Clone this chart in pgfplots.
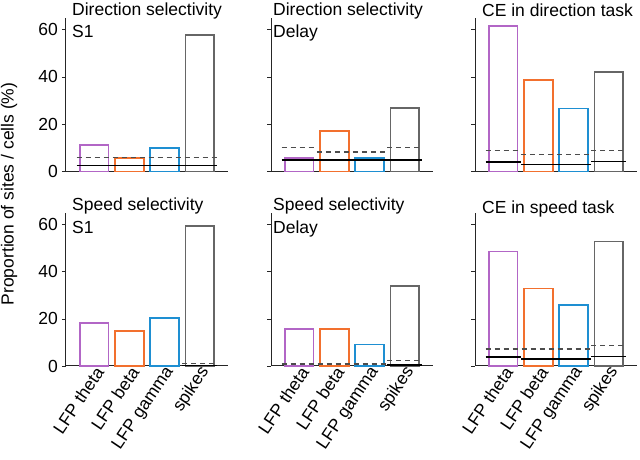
\documentclass[border=0pt]{standalone}
\usepackage{fontspec}
\setmainfont{Liberation Sans}
\usepackage{pgfplots}
\pgfplotsset{compat=1.18}
\definecolor{cpur}{HTML}{B266C6}
\definecolor{cora}{HTML}{F2702E}
\definecolor{cblu}{HTML}{1E8FD2}
\definecolor{cgry}{HTML}{666666}
\newcommand\f{\fontsize{17.5}{22.5}\selectfont}
\pgfplotsset{
 panel/.style={
  scale only axis, width=162pt, height=154pt,
  xmin=-0.8, xmax=3.8, ymin=0, ymax=65,
  axis x line*=bottom, axis y line*=left,
  axis line style={-, line width=1pt, black!85},
  ytick={0,20,40,60}, yticklabels={0,20,40,60},
  tick align=outside, major tick length=4pt,
  ytick style={line width=0.8pt, black!85},
  xtick={0,1,2,3}, xtick style={draw=none},
  xticklabels={},
  /pgf/number format/assume math mode=true,
  tick label style={font=\f},
  yticklabel style={inner sep=1pt, xshift=-3pt},
  title style={font=\f, align=left, at={(0,1)}, anchor=north west, yshift=9.3pt, inner sep=0pt},
  unbounded coords=jump,
  clip=false,
 },
 nolab/.style={yticklabels={}},
 xlab/.style={xticklabels={LFP theta, LFP beta, LFP gamma, spikes}, xticklabel style={rotate=56, anchor=east, inner sep=1pt, xshift=5pt, yshift=-4pt}},
 br/.style={ybar, bar width=0.82, bar shift=0pt, fill=none, line width=1.6pt, draw=#1},
 sl/.style={line width=1.5pt, black, no marks},
 dl/.style={line width=1.5pt, black!70, dash pattern=on 5pt off 4pt, no marks},
}
\begin{document}
\begin{tikzpicture}
% ---- top row ----
\begin{axis}[panel, at={(66pt,288.3pt)}, anchor=south west, title={Direction selectivity\\S1}, title style={xshift=6pt}]
\addplot[br=cpur] coordinates {(0,11.2)};
\addplot[br=cora] coordinates {(1,5.9)};
\addplot[br=cblu] coordinates {(2,10.1)};
\addplot[br=cgry] coordinates {(3,57.6)};
\addplot[dl] coordinates {(-0.5,5.9) (3.5,5.9)};
\addplot[sl] coordinates {(-0.5,2.7) (3.5,2.7)};
\end{axis}
\begin{axis}[panel, nolab, at={(271pt,288.3pt)}, anchor=south west, title={Direction selectivity\\Delay}, title style={xshift=2pt}]
\addplot[br=cpur] coordinates {(0,5.8)};
\addplot[br=cora] coordinates {(1,17.1)};
\addplot[br=cblu] coordinates {(2,5.9)};
\addplot[br=cgry] coordinates {(3,27.0)};
\addplot[dl] coordinates {(-0.5,10.3) (0.5,10.3) (0.5,nan) (0.5,8.4) (2.5,8.4) (2.5,nan) (2.5,10.3) (3.5,10.3)};
\addplot[sl] coordinates {(-0.5,4.9) (3.5,4.9)};
\end{axis}
\begin{axis}[panel, nolab, at={(475pt,288.3pt)}, anchor=south west, title={CE in direction task}, title style={xshift=7pt, yshift=-1.5pt}]
\addplot[br=cpur] coordinates {(0,61.4)};
\addplot[br=cora] coordinates {(1,38.6)};
\addplot[br=cblu] coordinates {(2,26.6)};
\addplot[br=cgry] coordinates {(3,42.2)};
\addplot[dl] coordinates {(-0.5,8.9) (0.5,8.9) (0.5,nan) (0.5,7.3) (2.5,7.3) (2.5,nan) (2.5,8.9) (3.5,8.9)};
\addplot[sl] coordinates {(-0.5,4.1) (0.5,4.1) (0.5,nan) (0.5,3.1) (2.5,3.1) (2.5,nan) (2.5,4.4) (3.5,4.4)};
\end{axis}
% ---- bottom row ----
\begin{axis}[panel, xlab, height=153pt, at={(66pt,94pt)}, anchor=south west, title={Speed selectivity\\S1}, title style={xshift=6pt}]
\addplot[br=cpur] coordinates {(0,18.2)};
\addplot[br=cora] coordinates {(1,14.8)};
\addplot[br=cblu] coordinates {(2,20.3)};
\addplot[br=cgry] coordinates {(3,59.6)};
\addplot[dl] coordinates {(2.5,1.0) (3.5,1.0)};
\addplot[sl] coordinates {(2.5,0.3) (3.5,0.3)};
\end{axis}
\begin{axis}[panel, nolab, xlab, height=153pt, at={(271pt,94pt)}, anchor=south west, title={Speed selectivity\\Delay}, title style={xshift=2pt}]
\addplot[br=cpur] coordinates {(0,15.7)};
\addplot[br=cora] coordinates {(1,15.7)};
\addplot[br=cblu] coordinates {(2,9.1)};
\addplot[br=cgry] coordinates {(3,33.9)};
\addplot[dl] coordinates {(-0.5,0.9) (2.5,0.9) (2.5,nan) (2.5,2.3) (3.5,2.3)};
\addplot[sl] coordinates {(2.5,0.4) (3.5,0.4)};
\end{axis}
\begin{axis}[panel, nolab, xlab, height=153pt, at={(475pt,94pt)}, anchor=south west, title={CE in speed task}, title style={xshift=7pt, yshift=-3pt}]
\addplot[br=cpur] coordinates {(0,48.7)};
\addplot[br=cora] coordinates {(1,33.0)};
\addplot[br=cblu] coordinates {(2,26.0)};
\addplot[br=cgry] coordinates {(3,52.9)};
\addplot[dl] coordinates {(-0.5,7.2) (2.5,7.2) (2.5,nan) (2.5,8.7) (3.5,8.7)};
\addplot[sl] coordinates {(-0.5,3.8) (0.5,3.8) (0.5,nan) (0.5,3.0) (2.5,3.0) (2.5,nan) (2.5,4.1) (3.5,4.1)};
\end{axis}
\node[rotate=90, font=\f, inner sep=0pt] at (9pt,266pt) {Proportion of sites / cells (\%)};
\pgfresetboundingbox
\path[use as bounding box] (0pt,0pt) rectangle (640pt,460pt);
\end{tikzpicture}
\end{document}
